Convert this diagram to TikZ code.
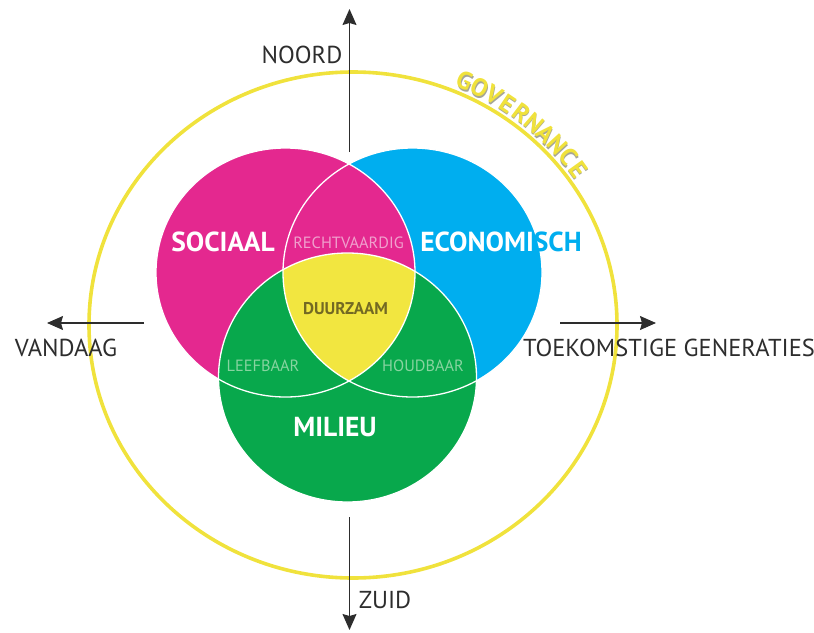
\documentclass[tikz,border=0pt]{standalone}
\usepackage{fontspec}
\setmainfont{PT Sans}
\usetikzlibrary{arrows.meta}

\definecolor{socmag}{RGB}{228,40,143}
\definecolor{ecocyan}{RGB}{0,174,239}
\definecolor{milgreen}{RGB}{8,168,76}
\definecolor{duuryel}{RGB}{242,230,64}
\definecolor{govyel}{RGB}{240,226,60}
\definecolor{govshade}{RGB}{165,165,150}
\definecolor{axisgray}{RGB}{45,45,45}
\definecolor{pinktxt}{RGB}{240,160,205}
\definecolor{greentxt}{RGB}{135,212,160}
\definecolor{olivetxt}{RGB}{115,105,35}

% letter with a soft grey shadow
\newcommand\shadowed[1]{\makebox[0pt][l]{\kern1.2pt\raisebox{-1.2pt}{\color{govshade}#1}}#1}

\tikzset{
  axis/.style={draw=axisgray, line width=1.1pt, -{Stealth[length=16pt,width=14pt,inset=2pt]}},
  dirlbl/.style={text=axisgray, font=\fontsize{24.5}{24.5}\selectfont, inner sep=0pt},
  biglbl/.style={text=white, font=\bfseries\fontsize{27.5}{27.5}\selectfont, inner sep=0pt},
  smalllbl/.style={font=\fontsize{16.3}{16.3}\selectfont, inner sep=0pt},
  govletter/.style={text=govyel, font=\bfseries\fontsize{25}{25}\selectfont, inner sep=0pt, anchor=base},
  rim/.style={draw=white, line width=1.3pt}
}

\def\socpath{(285.5,272.5) ellipse [x radius=129.5, y radius=124.5]}
\def\ecopath{(412.5,272.5) ellipse [x radius=129.5, y radius=124.5]}
\def\milpath{(347.5,377.5) ellipse [x radius=129, y radius=124.5]}

\begin{document}
\begin{tikzpicture}[x=1pt,y=-1pt]
      \useasboundingbox (0,0) rectangle (814,632);

      % governance ring
      \coordinate (gov) at (353,325);
      \draw[govyel, line width=3.6pt] (gov) ellipse [x radius=264, y radius=253];

      % the three circles
      \fill[ecocyan] \ecopath;
      \fill[socmag] \socpath;
      \fill[milgreen] \milpath;
      \begin{scope}
        \clip \socpath;
        \clip \ecopath;
        \fill[duuryel] \milpath;
      \end{scope}
      \draw[rim] \ecopath;
      \draw[rim] \socpath;
      \draw[rim] \milpath;

      \node (sociaal) at (223,241.5) [biglbl] {SOCIAAL};
      \node (econ) at (501,241.5) [biglbl] {ECONOMI{\color{ecocyan}SCH}};
      \node (milieu) at (335,427.5) [biglbl] {MILIEU};
      \node (recht) at (348.5,242.5) [smalllbl, text=pinktxt] {RECHTVAARDIG};
      \node (duur) at (345.5,308.5) [smalllbl, text=olivetxt, font=\bfseries\fontsize{17}{17}\selectfont] {DUURZAAM};
      \node (leef) at (263,366) [smalllbl, text=greentxt] {LEEFBAAR};
      \node (houd) at (423,366) [smalllbl, text=greentxt] {HOUDBAAR};

      % directions
      \coordinate (ntail) at (349.5,152);
      \coordinate (nhead) at (349.5,9);
      \coordinate (ztail) at (349.5,517);
      \coordinate (zhead) at (349.5,630);
      \coordinate (vtail) at (144,323);
      \coordinate (vhead) at (47,323);
      \coordinate (ttail) at (560,323);
      \coordinate (thead) at (656,323);
      \draw[axis] (ntail) -- (nhead);
      \draw[axis] (ztail) -- (zhead);
      \draw[axis] (vtail) -- (vhead);
      \draw[axis] (ttail) -- (thead);
      \node (noord) at (302,55) [dirlbl] {NOORD};
      \node (zuid) at (385,600) [dirlbl] {ZUID};
      \node (vandaag) at (66,347.5) [dirlbl] {VANDAAG};
      \node (toekomst) at (669,347.5) [dirlbl] {TOEKOMSTIGE GENERATIES};

      % GOVERNANCE along the ring
      \foreach \ch [count=\k] in {G,O,V,E,R,N,A,N,C,E} {
        \pgfmathsetmacro\ang{-66.3+3.4*(\k-1)}
        \pgfmathsetmacro\rot{-(\ang)-90}
        \path (gov) ++(\ang:269 and 258) node (gl\k) [govletter, rotate=\rot] {\shadowed{\ch}};
      }
\end{tikzpicture}
\end{document}
